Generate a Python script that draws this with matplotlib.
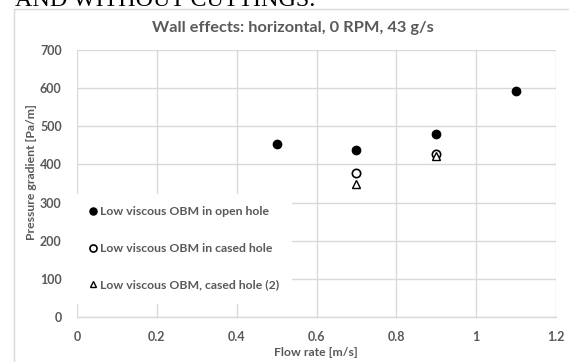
import matplotlib
matplotlib.use("Agg")
import matplotlib.pyplot as plt
from matplotlib.patches import Rectangle

# Measured pressure gradients for the low viscous oil-based mud
open_x = [0.5, 0.7, 0.9, 1.1]
open_y = [454, 438, 480, 593]
cased_x = [0.7, 0.9]
cased_y = [378, 427]
cased2_x = [0.7, 0.9]
cased2_y = [348, 421]

labels = [
    "Low viscous OBM in open hole",
    "Low viscous OBM in cased hole",
    "Low viscous OBM, cased hole (2)",
]
x_ticks = [0, 0.2, 0.4, 0.6, 0.8, 1, 1.2]
x_tick_labels = ["0", "0.2", "0.4", "0.6", "0.8", "1", "1.2"]
y_ticks = [0, 100, 200, 300, 400, 500, 600, 700]

W, H = 569, 362
fig = plt.figure(figsize=(W / 100, H / 100), dpi=100)
fig.patch.set_facecolor("white")

font = ["Lato", "DejaVu Sans"]
grey = "#595959"

def fx(px):
    return px / W

def fy(py):
    return 1 - py / H

# Document heading above the chart
fig.text(fx(15), fy(6), "AND WITHOUT CUTTINGS.", family="Liberation Serif",
         fontsize=17.3, color="black", ha="left", va="baseline")

# Chart area frame
fig.patches.append(Rectangle((fx(14), -0.1), 1.0, fy(9.5) + 0.1,
                             transform=fig.transFigure, fill=False,
                             edgecolor="#d9d9d9", linewidth=1.0))

ax = fig.add_axes([fx(77), 1 - 317 / H, (556 - 77) / W, (317 - 50) / H])
ax.set_xlim(0, 1.2)
ax.set_ylim(0, 700)
ax.set_xticks(x_ticks)
ax.set_xticklabels(x_tick_labels)
ax.set_yticks(y_ticks)
ax.grid(True, color="#d9d9d9", linewidth=1.0)
ax.set_axisbelow(True)
for s in ["top", "right", "left"]:
    ax.spines[s].set_visible(False)
ax.spines["bottom"].set_color("#d9d9d9")
ax.spines["bottom"].set_linewidth(1.0)
ax.tick_params(axis="x", length=0, pad=10, labelsize=9, labelcolor=grey)
ax.tick_params(axis="y", length=0, pad=11, labelsize=9, labelcolor=grey)
for lab in ax.get_xticklabels() + ax.get_yticklabels():
    lab.set_fontweight("bold")
    lab.set_family(font)

h1, = ax.plot(open_x, open_y, "o", color="black", markersize=6, linestyle="none",
              label=labels[0])
h2, = ax.plot(cased_x, cased_y, "o", markerfacecolor="white", markeredgecolor="black",
              markeredgewidth=1.2, markersize=6, linestyle="none", label=labels[1])
h3, = ax.plot(cased2_x, cased2_y, "^", markerfacecolor="white", markeredgecolor="black",
              markeredgewidth=1.0, markersize=5.5, linestyle="none", label=labels[2])

fig.text(fx(293), fy(32), "Wall effects: horizontal, 0 RPM, 43 g/s", fontsize=11.8,
         fontweight="bold", color=grey, family=font, ha="center", va="baseline")
fig.text(fx(316), fy(352), "Flow rate [m/s]", fontsize=8.8, fontweight="bold",
         color=grey, family=font, ha="center", va="center")
fig.text(fx(32), fy(172), "Pressure gradient [Pa/m]", fontsize=8.8, fontweight="bold",
         color=grey, family=font, ha="center", va="center", rotation=90)

leg = ax.legend(handles=[h1, h2, h3], loc="upper left",
                bbox_to_anchor=(0.0, (317 - 194) / (317 - 50)),
                frameon=True, fancybox=False, framealpha=1.0, edgecolor="white",
                facecolor="white", handlelength=0.6, handletextpad=0.25,
                labelspacing=2.1, borderpad=1.0, borderaxespad=0.0,
                markerscale=0.85,
                prop={"family": font, "weight": "bold", "size": 8.8})
for t in leg.get_texts():
    t.set_color(grey)

fig.savefig("out.png", dpi=100, facecolor="white")
